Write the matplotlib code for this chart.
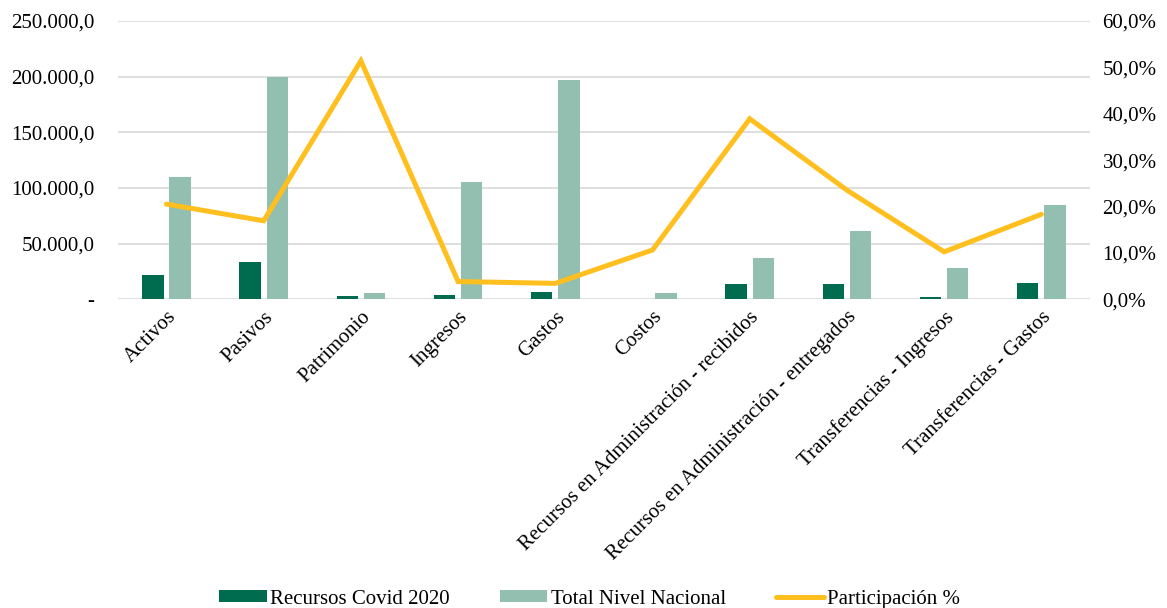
import numpy as np
import matplotlib
matplotlib.use("Agg")
import matplotlib.pyplot as plt
from matplotlib.ticker import FuncFormatter, MultipleLocator

categorias = ['Activos', 'Pasivos', 'Patrimonio', 'Ingresos', 'Gastos', 'Costos',
              'Recursos en Administración - recibidos',
              'Recursos en Administración - entregados',
              'Transferencias - Ingresos', 'Transferencias - Gastos']
recursos_covid = [21600, 33000, 2400, 3300, 6000, 540, 13800, 13800, 2100, 14700]
total_nacional = [109500, 199500, 5400, 105500, 197000, 5100, 36600, 61200, 27600, 84300]
participacion = [20.5, 16.9, 51.4, 3.8, 3.4, 10.6, 38.9, 23.5, 10.2, 18.3]

verde = '#006C4F'
verde_claro = '#93BFB0'
amarillo = '#FFBF1F'
gris = '#D9D9D9'

plt.rcParams['font.family'] = ['Liberation Serif', 'DejaVu Serif']
plt.rcParams['font.size'] = 15

def miles(v, pos):
    if v == 0:
        return '-'
    s = f'{v:,.1f}'
    return s.replace(',', 'X').replace('.', ',').replace('X', '.')

def pct(v, pos):
    return f'{v:.1f}%'.replace('.', ',')

fig, ax = plt.subplots(figsize=(11.67, 6.08), dpi=100)
fig.subplots_adjust(left=0.101, right=0.934, top=0.9655, bottom=0.508)

x = np.arange(len(categorias))
w = 0.22
ax.bar(x - 0.14, recursos_covid, w, color=verde, label='Recursos Covid 2020', zorder=3)
ax.bar(x + 0.14, total_nacional, w, color=verde_claro, label='Total Nivel Nacional', zorder=3)
ax.set_ylim(0, 250000)
ax.set_xlim(-0.5, len(categorias) - 0.5)
ax.yaxis.set_major_locator(MultipleLocator(50000))
ax.yaxis.set_major_formatter(FuncFormatter(miles))
ax.grid(axis='y', color=gris, linewidth=1.2, zorder=0)
ax.set_axisbelow(True)
for s in ax.spines.values():
    s.set_visible(False)
ax.tick_params(axis='both', length=0)
ax.tick_params(axis='y', pad=17)
ax.set_xticks(x)
ax.set_xticklabels(categorias, rotation=45, ha='right', rotation_mode='anchor')
ax.tick_params(axis='x', pad=6)

ax2 = ax.twinx()
ax2.plot(x, participacion, color=amarillo, linewidth=3.6, solid_capstyle='round',
         solid_joinstyle='miter', label='Participación %', zorder=4)
ax2.set_ylim(0, 60)
ax2.yaxis.set_major_locator(MultipleLocator(10))
ax2.yaxis.set_major_formatter(FuncFormatter(pct))
for s in ax2.spines.values():
    s.set_visible(False)
ax2.tick_params(axis='y', length=0, pad=9)

h1, l1 = ax.get_legend_handles_labels()
h2, l2 = ax2.get_legend_handles_labels()
fig.legend(h1 + h2, l1 + l2, loc='lower center', bbox_to_anchor=(0.505, -0.032),
           ncol=3, frameon=False, handlelength=2.3, handleheight=0.5,
           handletextpad=0.15, columnspacing=2.4)

fig.savefig('out.png', dpi=100)
